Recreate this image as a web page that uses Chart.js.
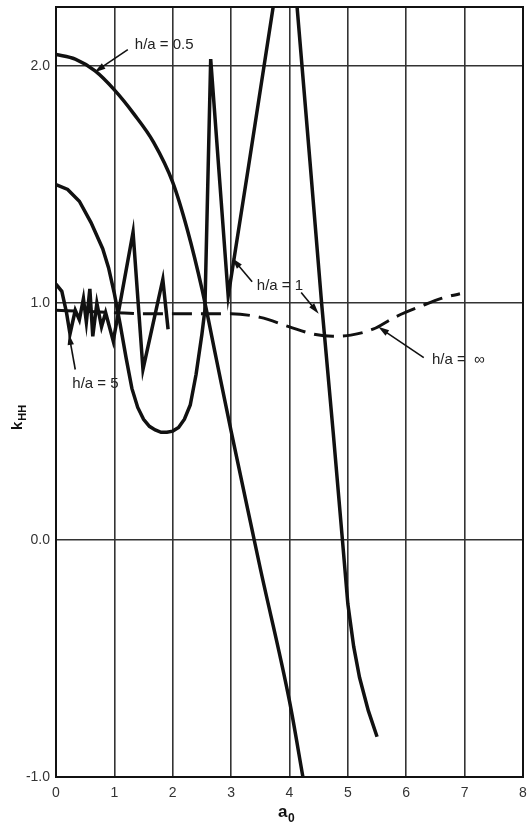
<!DOCTYPE html>
<html>
<head>
<meta charset="utf-8">
<script src="https://cdn.jsdelivr.net/npm/chart.js@4.4.1/dist/chart.umd.min.js"></script>
<style>
  html, body { margin: 0; padding: 0; background: #fff; }
  #wrap { width: 528px; height: 825px; }
</style>
</head>
<body>
<div id="wrap"><canvas id="khhChart" width="528" height="825"></canvas></div>
<script>
// dimensionless frequency a0 vs stiffness coefficient kHH, one curve per h/a

// h/a = 0.5
var xHalf = [0, 0.33, 0.67, 1, 1.33, 1.67, 2, 2.25, 2.5, 2.75, 3, 3.37, 3.5, 4, 4.23];
var yHalf = [2.05, 2.03, 1.98, 1.90, 1.80, 1.68, 1.51, 1.31, 1.06, 0.76, 0.46, 0.03, -0.12, -0.68, -1.0];

// h/a = 1
var xOne = [0, 0.2, 0.4, 0.6, 0.8, 0.9, 1.0, 1.1, 1.2, 1.3, 1.4, 1.5, 1.6, 1.7, 1.8, 1.9, 2.0, 2.1, 2.2, 2.3, 2.4, 2.5, 2.55,
            2.65, 2.95, 3.3, 3.72, 3.99, 4.13, 4.35, 4.55, 4.75, 4.9, 5.0, 5.1, 5.2, 5.35, 5.5];
var yOne = [1.50, 1.48, 1.43, 1.34, 1.23, 1.15, 1.04, 0.91, 0.77, 0.64, 0.56, 0.51, 0.48, 0.465, 0.455, 0.455, 0.46, 0.475, 0.51, 0.57, 0.70, 0.87, 0.97,
            2.03, 1.03, 1.58, 2.25, 2.66, 2.25, 1.60, 1.0, 0.45, 0.02, -0.27, -0.45, -0.58, -0.72, -0.83];

// h/a = 5
var xFive = [0, 0.1, 0.18, 0.24, 0.33, 0.4, 0.47, 0.52, 0.58, 0.63, 0.7, 0.78, 0.85, 0.98, 1.32, 1.49, 1.83, 1.92];
var yFive = [1.08, 1.05, 0.96, 0.87, 0.97, 0.93, 1.02, 0.92, 1.06, 0.86, 1.0, 0.9, 0.96, 0.84, 1.30, 0.72, 1.10, 0.89];

// h/a = infinity
var xInf = [0, 0.5, 1, 1.5, 2, 2.5, 3, 3.5, 4, 4.4, 4.74, 5.05, 5.43, 5.8, 6.28, 6.6, 6.92];
var yInf = [0.97, 0.965, 0.96, 0.955, 0.955, 0.955, 0.955, 0.94, 0.90, 0.87, 0.86, 0.865, 0.89, 0.94, 0.99, 1.02, 1.04];

var xTicks = [0, 1, 2, 3, 4, 5, 6, 7, 8];
var yTicks = [-1, 0, 1, 2];

var FONT = "'Liberation Sans', Arial, sans-serif";
var INK = '#111';

function pts(xs, ys) {
    return xs.map(function(x, i) { return { x: x, y: ys[i] }; });
}

// curve labels with leader arrows (data units)
var notes = [
    { text: 'h/a = 0.5', at: [1.35, 2.09], from: [1.23, 2.07], to: [0.66, 1.975] },
    { text: 'h/a = 1', at: [3.44, 1.075], from: [3.36, 1.09], to: [3.02, 1.19] },
    { text: '', at: [0, 0], from: [4.2, 1.045], to: [4.5, 0.955] },
    { text: 'h/a = 5', at: [0.28, 0.66], from: [0.33, 0.72], to: [0.22, 0.87] },
    { text: 'h/a =  \u221E', at: [6.44, 0.76], from: [6.3, 0.77], to: [5.52, 0.9] }
];

function arrow(ctx, x1, y1, x2, y2) {
    var ang = Math.atan2(y2 - y1, x2 - x1);
    var len = 11, half = 3.2;
    ctx.beginPath();
    ctx.moveTo(x1, y1);
    ctx.lineTo(x2 - Math.cos(ang) * len * 0.6, y2 - Math.sin(ang) * len * 0.6);
    ctx.lineWidth = 1.6;
    ctx.strokeStyle = INK;
    ctx.stroke();
    ctx.beginPath();
    ctx.moveTo(x2, y2);
    ctx.lineTo(x2 - Math.cos(ang) * len - Math.sin(ang) * half, y2 - Math.sin(ang) * len + Math.cos(ang) * half);
    ctx.lineTo(x2 - Math.cos(ang) * len + Math.sin(ang) * half, y2 - Math.sin(ang) * len - Math.cos(ang) * half);
    ctx.closePath();
    ctx.fillStyle = INK;
    ctx.fill();
}

var decor = {
    id: 'decor',
    afterDraw: function(chart) {
        var ctx = chart.ctx, a = chart.chartArea;
        var sx = chart.scales.x, sy = chart.scales.y;
        ctx.save();

        // outer frame
        ctx.strokeStyle = INK;
        ctx.lineWidth = 2;
        ctx.strokeRect(a.left, a.top, a.right - a.left, a.bottom - a.top);

        // labels + arrows
        ctx.font = '15px ' + FONT;
        ctx.textBaseline = 'middle';
        ctx.textAlign = 'left';
        notes.forEach(function(n) {
            if (n.text) {
                ctx.fillStyle = '#222';
                ctx.fillText(n.text, sx.getPixelForValue(n.at[0]), sy.getPixelForValue(n.at[1]));
            }
            arrow(ctx, sx.getPixelForValue(n.from[0]), sy.getPixelForValue(n.from[1]),
                       sx.getPixelForValue(n.to[0]), sy.getPixelForValue(n.to[1]));
        });

        // y axis title: k with HH subscript, reading upward
        ctx.translate(22, 430);
        ctx.rotate(-Math.PI / 2);
        ctx.fillStyle = INK;
        ctx.textBaseline = 'alphabetic';
        ctx.font = 'bold 15px ' + FONT;
        ctx.fillText('k', 0, 0);
        var kw = ctx.measureText('k').width;
        ctx.font = 'bold 11px ' + FONT;
        ctx.fillText('HH', kw + 1, 4);
        ctx.restore();

        // x axis title
        ctx.save();
        ctx.fillStyle = INK;
        ctx.textAlign = 'left';
        ctx.textBaseline = 'alphabetic';
        ctx.font = 'bold 17px ' + FONT;
        ctx.fillText('a', 278, 817);
        ctx.font = 'bold 12px ' + FONT;
        ctx.fillText('0', 288, 822);
        ctx.restore();
    }
};

var khhChart = new Chart(document.getElementById('khhChart'), {
    type: 'scatter',
    data: {
        datasets: [{
            label: 'h/a = 0.5',
            data: pts(xHalf, yHalf),
            cubicInterpolationMode: 'monotone'
        }, {
            label: 'h/a = 1',
            data: pts(xOne, yOne),
            tension: 0
        }, {
            label: 'h/a = 5',
            data: pts(xFive, yFive),
            tension: 0
        }, {
            label: 'h/a = \u221E',
            data: pts(xInf, yInf),
            cubicInterpolationMode: 'monotone',
            borderDash: [20, 9],
            borderWidth: 3
        }]
    },
    options: {
        responsive: false,
        animation: false,
        layout: { padding: { top: 7, right: 5, left: 0, bottom: 0 } },
        elements: {
            line: { borderColor: INK, borderWidth: 3.5, fill: false, borderJoinStyle: 'miter', borderCapStyle: 'butt' },
            point: { radius: 0, hoverRadius: 0 }
        },
        datasets: { scatter: { showLine: true } },
        plugins: {
            legend: { display: false },
            tooltip: { enabled: false },
            title: { display: false }
        },
        scales: {
            x: {
                type: 'linear',
                min: 0,
                max: 8,
                afterFit: function(s) { s.height = 48; s.paddingLeft = 0; s.paddingRight = 0; },
                afterBuildTicks: function(s) { s.ticks = xTicks.map(function(v) { return { value: v }; }); },
                grid: { color: '#333', lineWidth: 1.6, drawTicks: false },
                border: { color: INK, width: 2 },
                ticks: { color: '#333', padding: 8, font: { family: FONT, size: 14 } }
            },
            y: {
                type: 'linear',
                min: -1,
                max: 2.25,
                afterFit: function(s) { s.width = 56; s.paddingTop = 0; s.paddingBottom = 0; },
                afterBuildTicks: function(s) { s.ticks = yTicks.map(function(v) { return { value: v }; }); },
                grid: { color: '#333', lineWidth: 1.6, drawTicks: false },
                border: { color: INK, width: 2 },
                ticks: {
                    color: '#333',
                    padding: 6,
                    font: { family: FONT, size: 14 },
                    callback: function(v) { return v.toFixed(1); }
                }
            }
        }
    },
    plugins: [decor]
});
</script>
</body>
</html>
